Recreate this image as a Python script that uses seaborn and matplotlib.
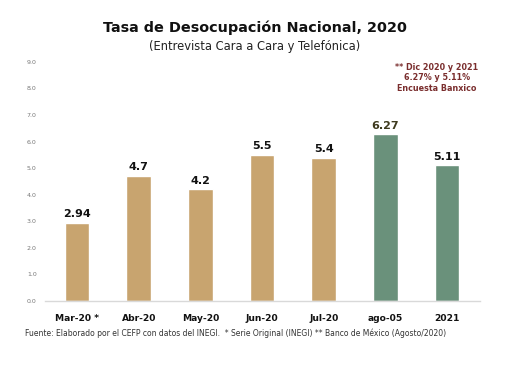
import matplotlib
matplotlib.use("Agg")
import matplotlib.pyplot as plt
import seaborn as sns
import pandas as pd

categories = ["Mar-20 *", "Abr-20", "May-20", "Jun-20", "Jul-20", "ago-05", "2021"]
values = [2.94, 4.7, 4.2, 5.5, 5.4, 6.27, 5.11]
labels = ["2.94", "4.7", "4.2", "5.5", "5.4", "6.27", "5.11"]
kinds = ["INEGI", "INEGI", "INEGI", "INEGI", "INEGI", "Banxico", "Banxico"]
yticks = [0, 1, 2, 3, 4, 5, 6, 7, 8, 9]

sns.set_theme(style="white")
plt.rcParams['font.family'] = ['DejaVu Sans']

df = pd.DataFrame({"cat": categories, "val": values, "kind": kinds})
palette = {"INEGI": "#C8A46F", "Banxico": "#6A917B"}

fig = plt.figure(figsize=(5.11, 3.84), dpi=100)
ax = fig.add_axes([0.088, 0.216, 0.851, 0.623])
sns.barplot(data=df, x="cat", y="val", hue="kind", palette=palette,
            dodge=False, width=0.4, legend=False, ax=ax, saturation=1)

for i, (v, lab) in enumerate(zip(values, labels)):
    ax.text(i, v + 0.14, lab, ha="center", va="bottom", fontsize=8,
            fontweight="bold", color="#3E3A1E" if i == 5 else "#111111")

ax.set_ylim(0, 9)
ax.set_xlim(-0.52, 6.53)
ax.set_yticks(yticks)
ax.set_yticklabels([f"{t:.1f}" for t in yticks], fontsize=4.5, color="#777777")
ax.tick_params(axis="y", length=0, pad=6)
ax.tick_params(axis="x", length=0, pad=9)
for lab in ax.get_xticklabels():
    lab.set_fontsize(6.6)
    lab.set_fontweight("bold")
    lab.set_color("#111111")
ax.set_xlabel("")
ax.set_ylabel("")
for s in ["top", "right", "left"]:
    ax.spines[s].set_visible(False)
ax.spines["bottom"].set_color("#D9D9D9")
ax.spines["bottom"].set_linewidth(1)

fig.text(0.499, 0.928, "Tasa de Desocupación Nacional, 2020", ha="center", va="center",
         fontsize=10.4, fontweight="bold", color="#111111")
fig.text(0.499, 0.878, "(Entrevista Cara a Cara y Telefónica)", ha="center", va="center",
         fontsize=8.3, color="#222222")
fig.text(0.855, 0.797, "** Dic 2020 y 2021\n6.27% y 5.11%\nEncuesta Banxico", ha="center", va="center",
         fontsize=5.8, fontweight="bold", color="#7A2E2E", linespacing=1.25)
fig.text(0.049, 0.133, "Fuente: Elaborado por el CEFP con datos del INEGI.  * Serie Original (INEGI) ** Banco de México (Agosto/2020)",
         ha="left", va="center", fontsize=5.5, color="#333333")

fig.savefig("out.png", dpi=100, facecolor="white")
